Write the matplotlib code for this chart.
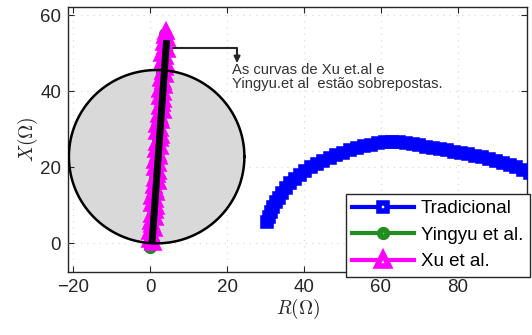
import matplotlib
matplotlib.use("Agg")
import matplotlib.pyplot as plt
import numpy as np

plt.rcParams['font.family'] = ['Liberation Sans', 'DejaVu Sans']
plt.rcParams['mathtext.fontset'] = 'cm'

# Tradicional (blue squares)
trad_R = [30.4, 30.8, 31.3, 31.9, 32.6, 33.4, 34.3, 35.3, 36.4, 37.6, 38.9, 40.3,
          41.8, 43.4, 45.0, 46.7, 48.4, 50.2, 52.0, 53.8, 55.6, 57.4, 59.2, 61.0,
          62.8, 64.6, 66.4, 68.2, 70.0, 71.8, 73.6, 75.4, 77.2, 79.0, 80.8, 82.6,
          84.4, 86.2, 88.0, 89.8, 91.6, 93.4, 95.2, 97.0, 98.8]
trad_X = [5.5, 6.8, 8.1, 9.4, 10.7, 12.0, 13.3, 14.5, 15.7, 16.8, 17.9, 18.9,
          19.9, 20.8, 21.6, 22.4, 23.1, 23.8, 24.4, 25.0, 25.5, 25.9, 26.3, 26.6,
          26.7, 26.5, 26.3, 26.0, 25.7, 25.4, 25.1, 24.8, 24.4, 24.1, 23.8, 23.4,
          23.0, 22.6, 22.1, 21.6, 21.1, 20.5, 19.9, 19.2, 18.5]

# Xu et al. (magenta triangles)
xu_X = [0.0, 0.9, 1.9, 2.8, 3.8, 4.7, 5.6, 6.6, 7.5, 8.5, 9.4, 10.3, 11.3, 12.2,
        13.2, 14.1, 15.0, 16.0, 16.9, 17.9, 18.8, 19.7, 20.7, 21.6, 22.6, 23.5,
        24.4, 25.4, 26.3, 27.3, 28.2, 29.1, 30.1, 31.0, 32.0, 32.9, 33.8, 34.8,
        35.7, 36.7, 37.6, 38.5, 39.5, 40.4, 41.4, 42.3, 43.2, 44.2, 45.1, 46.1,
        47.0, 47.9, 48.9, 49.8, 50.8, 51.7, 52.6, 53.6, 54.5, 55.5]
xu_R = [0.8, 0.0, 0.6, -0.1, 1.0, 0.6, 0.2, 1.4, 0.6, 1.2,
        1.5, 0.6, 1.3, 0.5, 1.6, 1.3, 0.9, 2.0, 1.3, 1.9,
        2.1, 1.3, 2.0, 1.2, 2.3, 2.0, 1.5, 2.7, 1.9, 2.5,
        2.8, 1.9, 2.6, 1.9, 2.9, 2.6, 2.2, 3.3, 2.6, 3.2,
        3.4, 2.6, 3.3, 2.5, 3.6, 3.3, 2.8, 4.0, 3.3, 3.8,
        4.1, 3.3, 3.9, 3.2, 4.3, 3.9, 3.5, 4.5, 3.9, 4.2]

# Yingyu et al. (green circles, hidden under Xu)
ying_X = [-1.0, 1.0, 3.0, 5.0, 7.0, 9.0, 11.0, 13.0, 15.0, 17.0, 19.0, 21.0,
          23.0, 25.0, 27.0, 29.0, 31.0, 33.0, 35.0, 37.0, 39.0, 41.0, 43.0,
          45.0, 47.0, 49.0, 51.0, 53.0, 55.0]
ying_R = [0.0, 0.3, 0.4, 0.5, 0.7, 0.8, 0.9, 1.1, 1.2, 1.3, 1.5, 1.6, 1.7,
          1.9, 2.0, 2.1, 2.3, 2.4, 2.5, 2.7, 2.8, 2.9, 3.1, 3.2, 3.3, 3.5,
          3.6, 3.7, 3.9]

# linha (black) and mho circle
linha_R = [0.5, 4.3]
linha_X = [0.0, 53.4]
mho_alcance = 45.6
mho_angulo = 85.7

fig = plt.figure(figsize=(5.32, 3.35), dpi=100)
ax = fig.add_axes([0.128, 0.188, 0.863, 0.791])

ang = np.deg2rad(mho_angulo)
cx = mho_alcance / 2 * np.cos(ang)
cy = mho_alcance / 2 * np.sin(ang)
t = np.linspace(0, 2 * np.pi, 400)
circ_R = cx + mho_alcance / 2 * np.cos(t)
circ_X = cy + mho_alcance / 2 * np.sin(t)
ax.fill(circ_R, circ_X, color='#d9d9d9', zorder=1)

ax.plot(trad_R, trad_X, '-s', color='#0000ff', lw=3, ms=5.5, mfc='#0000ff',
        mew=4, label='Tradicional', zorder=3)
ax.plot(ying_R, ying_X, '-o', color='#228b22', lw=3, ms=5.5, mfc='#228b22',
        mew=4, label='Yingyu et al.', zorder=3)
ax.plot(xu_R, xu_X, '-^', color='#ff00ff', lw=3, ms=7, mfc='#ff00ff',
        mew=4, label='Xu et al.', zorder=4)
ax.plot(circ_R, circ_X, color='black', lw=1.8, zorder=5)
ax.plot(linha_R, linha_X, color='black', lw=5, solid_capstyle='butt', zorder=6)

ax.annotate('', xy=(22.6, 47.4), xytext=(6.0, 51.3),
            arrowprops=dict(arrowstyle='-|>', color='#262626', lw=1.5,
                            shrinkA=0, shrinkB=0, mutation_scale=9,
                            connectionstyle='angle,angleA=0,angleB=90,rad=0'),
            zorder=7)
ax.text(21.3, 47.3, 'As curvas de Xu et.al e\nYingyu.et al  estão sobrepostas.',
        fontsize=10.6, color='#333333', va='top', ha='left', linespacing=1.0,
        zorder=7)

ax.set_xlim(-21.3, 98)
ax.set_ylim(-7.6, 62.1)
ax.set_xticks([-20, 0, 20, 40, 60, 80])
ax.set_yticks([0, 20, 40, 60])
ax.grid(True, linestyle=(0, (1, 4)), color='#dcdcdc', lw=0.9)
ax.set_axisbelow(False)
for s in ax.spines.values():
    s.set_color('#262626')
    s.set_linewidth(1)
ax.tick_params(direction='in', length=4, top=True, right=True,
               labelsize=13.5, colors='#262626', pad=5)

ax.set_xlabel(r'$R(\Omega)$', fontsize=14, color='#262626', labelpad=1)
ax.set_ylabel(r'$X(\Omega)$', fontsize=14, color='#262626', labelpad=0)

leg = ax.legend(loc='lower right', bbox_to_anchor=(0.996, 0.173),
                bbox_transform=fig.transFigure, fontsize=13.5, handlelength=3.3,
                handletextpad=0.35, labelspacing=0.5, borderpad=0.35,
                borderaxespad=0, fancybox=False, framealpha=1,
                edgecolor='#262626')
leg.get_frame().set_linewidth(1)
leg.set_zorder(10)
face = ['white', '#00ff00', 'white']
for h, fc in zip(leg.legend_handles, face):
    h.set_markerfacecolor(fc)
leg.legend_handles[2].set_markersize(9)

fig.savefig('out.png', dpi=100)
